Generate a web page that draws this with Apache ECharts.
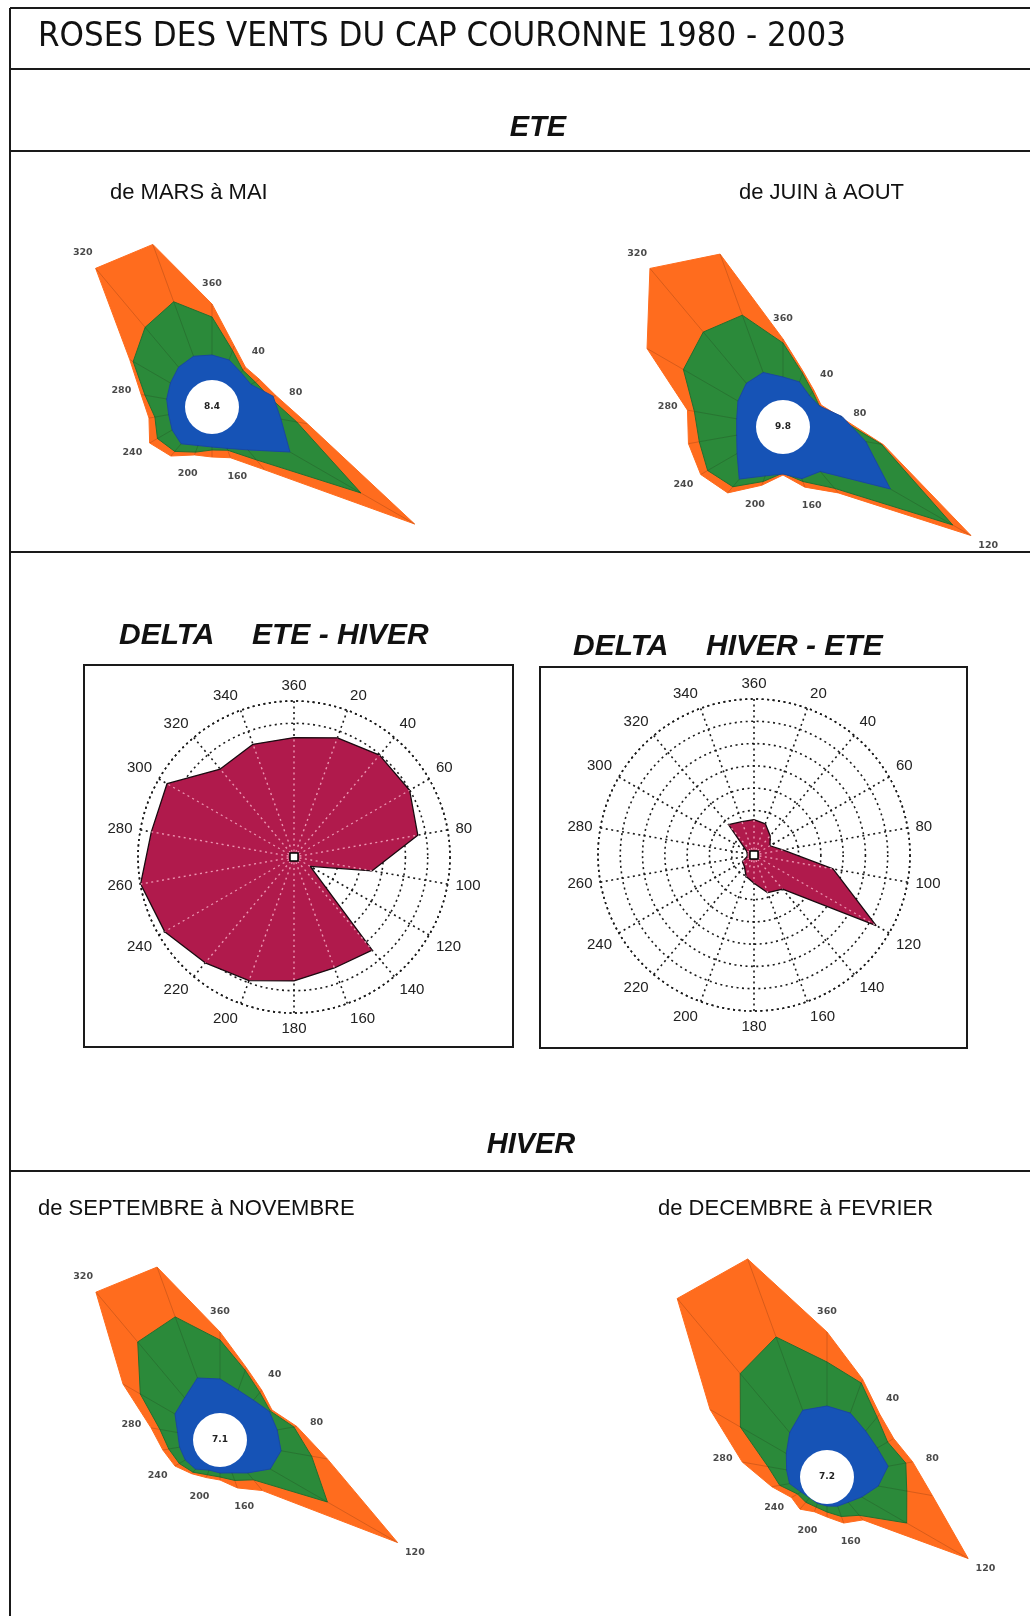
<!DOCTYPE html>
<html>
<head>
<meta charset="utf-8">
<title>Roses des vents du Cap Couronne</title>
<script src="https://cdn.jsdelivr.net/npm/echarts@6/dist/echarts.min.js"></script>
<style>
html, body { margin: 0; padding: 0; background: #fff; }
#chart { width: 1030px; height: 1616px; }
</style>
</head>
<body>
<div id="chart"></div>
<script>
// directions (degrés), un secteur tous les 20°
var directions = [0, 20, 40, 60, 80, 100, 120, 140, 160, 180, 200, 220, 240, 260, 280, 300, 320, 340];
var labelDirections = [0, 40, 80, 120, 160, 200, 240, 280, 320];

// ETE - de MARS à MAI
var marsMaiOrange = [103, 65, 52, 55, 65, 97, 234, 82, 54, 50, 51, 64, 72, 64, 72, 95, 181, 173];
var marsMaiGreen  = [90, 60, 48, 50, 58, 86, 172, 69, 46, 43, 48, 58, 63, 58, 68, 91, 104, 112];
var marsMaiBlue   = [52, 50, 45, 45, 62, 70, 90, 56, 44, 40, 41, 48, 46, 44, 46, 48, 52, 54];
var marsMaiCalm = '8.4';

// ETE - de JUIN à AOUT
var juinAoutOrange = [88, 59, 48, 44, 58, 102, 217, 86, 64, 48, 62, 86, 95, 96, 97, 157, 207, 184];
var juinAoutGreen  = [84, 57, 46, 42, 55, 100, 196, 80, 58, 46, 58, 78, 87, 85, 90, 115, 124, 119];
var juinAoutBlue   = [50, 48, 41, 42, 60, 84, 124, 58, 55, 47, 52, 68, 53, 47, 47, 52, 57, 58];
var juinAoutCalm = '9.8';

// HIVER - de SEPTEMBRE à NOVEMBRE
var septNovOrange = [108, 77, 65, 60, 78, 109, 205, 66, 51, 40, 40, 44, 52, 58, 70, 112, 193, 184];
var septNovGreen  = [100, 74, 62, 58, 75, 93, 124, 52, 43, 37, 37, 42, 47, 52, 61, 92, 128, 131];
var septNovBlue   = [61, 53, 52, 57, 58, 62, 58, 43, 35, 33, 32, 38, 40, 41, 43, 52, 55, 66];
var septNovCalm = '7.1';

// HIVER - de DECEMBRE à FEVRIER
var decFevOrange = [145, 104, 82, 77, 87, 107, 163, 56, 49, 40, 37, 42, 41, 56, 86, 135, 233, 232];
var decFevGreen  = [115, 100, 78, 70, 80, 81, 92, 50, 42, 35, 32, 33, 34, 48, 60, 100, 135, 149];
var decFevBlue   = [71, 68, 60, 58, 62, 52, 40, 33, 31, 29, 28, 27, 30, 38, 41, 47, 58, 71];
var decFevCalm = '7.2';

// DELTA (7 cercles)
var deltaEteHiver = [5.36, 5.69, 5.97, 5.99, 5.64, 3.56, 0.84, 5.46, 5.3, 5.56, 5.9, 6.2, 6.7, 6.99, 6.5, 6.58, 5.15, 5.38];
var deltaHiverEte = [1.59, 1.49, 1.13, 0.83, 1.31, 3.6, 6.33, 2.0, 1.8, 1.27, 1.03, 0.67, 0.6, 0.3, 0.3, 0.4, 1.78, 1.59];
var deltaMax = 7;

var ORANGE = '#ff6c1e', GREEN = '#2b8a3a', BLUE = '#1653b6', CRIMSON = '#b01a4c';
var ROSE_MAX = 250;

// polygone fermé [rayon, angle]
function closed(values) {
  var pts = directions.map(function (a, i) { return [values[i], a]; });
  pts.push([values[0], 360]);
  return pts;
}

function areaSeries(polarIndex, values, fill, stroke, z) {
  return {
    type: 'line', coordinateSystem: 'polar', polarIndex: polarIndex,
    data: closed(values), symbol: 'none', smooth: false, silent: true, z: z,
    lineStyle: { color: stroke, width: 1 },
    areaStyle: { color: fill, opacity: 1 }
  };
}

function spokes(polarIndex, inner, outer, style, z) {
  var pts = [];
  directions.forEach(function (a, i) {
    pts.push([inner ? inner[i] : 0, a], [outer[i], a], ['-', a]);
  });
  return {
    type: 'line', coordinateSystem: 'polar', polarIndex: polarIndex,
    data: pts, symbol: 'none', silent: true, z: z, connectNulls: false,
    lineStyle: style
  };
}

function roseSeries(polarIndex, orange, green, blue, calm) {
  return [
    areaSeries(polarIndex, orange, ORANGE, ORANGE, 2),
    areaSeries(polarIndex, green, GREEN, '#24702f', 3),
    areaSeries(polarIndex, blue, BLUE, '#1a48a0', 4),
    spokes(polarIndex, blue, orange, { color: 'rgba(30,20,10,0.22)', width: 0.8 }, 5),
    {
      type: 'scatter', coordinateSystem: 'polar', polarIndex: polarIndex, z: 6, silent: true,
      data: [[0, 0]], symbol: 'circle', symbolSize: 54,
      itemStyle: { color: '#ffffff', opacity: 1 },
      label: { show: true, position: 'inside', formatter: calm, color: '#222',
               fontFamily: 'DejaVu Sans', fontWeight: 'bold', fontSize: 9 }
    },
    {
      type: 'scatter', coordinateSystem: 'polar', polarIndex: polarIndex, z: 7, silent: true,
      data: labelDirections.map(function (a) { return [orange[directions.indexOf(a)] + 20, a]; }),
      symbolSize: 1, itemStyle: { color: 'rgba(0,0,0,0)' },
      label: { show: true, position: 'inside', color: '#1a1a1a',
               fontFamily: 'DejaVu Sans', fontWeight: 'bold', fontSize: 9.5,
               formatter: function (p) { return p.value[1] === 0 ? '360' : String(p.value[1]); } }
    }
  ];
}

function deltaSeries(polarIndex, values) {
  return [
    {
      type: 'line', coordinateSystem: 'polar', polarIndex: polarIndex,
      data: closed(values), symbol: 'none', silent: true, z: 2,
      lineStyle: { color: '#1a0a10', width: 1.3 },
      areaStyle: { color: CRIMSON, opacity: 1 }
    },
    spokes(polarIndex, null, values, { color: 'rgba(255,190,210,0.75)', width: 1.4, type: [2, 3.5] }, 3),
    {
      type: 'scatter', coordinateSystem: 'polar', polarIndex: polarIndex, z: 4, silent: true,
      data: [[0, 0]], symbol: 'rect', symbolSize: 8,
      itemStyle: { color: '#fff', opacity: 1, borderColor: '#000', borderWidth: 1.5 }
    }
  ];
}

// polaires : 0 mars-mai, 1 juin-aout, 2 delta ete-hiver, 3 delta hiver-ete, 4 sept-nov, 5 dec-fev
var roseCenters = [[212, 407], [783, 427], null, null, [220, 1440], [827, 1477]];
var deltaCenters = [null, null, [294, 857], [754, 855]];
var gridLine = { color: '#1a1a1a', width: 1.6, type: [2, 3.5] };

var polar = [], angleAxis = [], radiusAxis = [];
for (var k = 0; k < 6; k++) {
  var isDelta = (k === 2 || k === 3);
  polar.push({ center: isDelta ? deltaCenters[k] : roseCenters[k], radius: isDelta ? 156 : ROSE_MAX });
  if (isDelta) {
    angleAxis.push({
      polarIndex: k, type: 'value', min: 0, max: 360, interval: 20, startAngle: 90, clockwise: true,
      axisLine: { show: true, lineStyle: gridLine },
      axisTick: { show: false },
      splitLine: { show: true, lineStyle: gridLine },
      axisLabel: { show: true, margin: 8, color: '#222', fontFamily: 'Liberation Sans', fontSize: 15,
                   formatter: function (v) { return v === 0 ? '360' : String(v); } }
    });
    radiusAxis.push({
      polarIndex: k, type: 'value', min: 0, max: deltaMax, interval: 1,
      axisLine: { show: false }, axisTick: { show: false }, axisLabel: { show: false },
      splitLine: { show: true, lineStyle: gridLine }
    });
  } else {
    angleAxis.push({ polarIndex: k, type: 'value', min: 0, max: 360, startAngle: 90, clockwise: true, show: false });
    radiusAxis.push({ polarIndex: k, type: 'value', min: 0, max: ROSE_MAX, show: false });
  }
}

var series = []
  .concat(roseSeries(0, marsMaiOrange, marsMaiGreen, marsMaiBlue, marsMaiCalm))
  .concat(roseSeries(1, juinAoutOrange, juinAoutGreen, juinAoutBlue, juinAoutCalm))
  .concat(deltaSeries(2, deltaEteHiver))
  .concat(deltaSeries(3, deltaHiverEte))
  .concat(roseSeries(4, septNovOrange, septNovGreen, septNovBlue, septNovCalm))
  .concat(roseSeries(5, decFevOrange, decFevGreen, decFevBlue, decFevCalm));

// textes et cadres
function txt(text, x, y, font, align) {
  return {
    type: 'text', silent: true, z: 10,
    style: { text: text, x: x, y: y, font: font, fill: '#111',
             textAlign: align || 'left', align: align || 'left',
             textVerticalAlign: 'middle', verticalAlign: 'middle' }
  };
}
function hline(y, x1, x2) {
  return { type: 'line', silent: true, z: 10, shape: { x1: x1, y1: y, x2: x2, y2: y },
           style: { stroke: '#1a1a1a', lineWidth: 2 } };
}
var headFont = 'bold italic 29px "Liberation Sans", Arial, sans-serif';
var deltaFont = 'bold italic 30px "Liberation Sans", Arial, sans-serif';
var subFont = '22px "Liberation Sans", Arial, sans-serif';

var graphic = [
  hline(8, 10, 1030), hline(69, 10, 1030), hline(151, 10, 1030), hline(552, 10, 1030), hline(1171, 10, 1030),
  { type: 'line', silent: true, z: 10, shape: { x1: 10, y1: 8, x2: 10, y2: 1616 }, style: { stroke: '#1a1a1a', lineWidth: 2 } },
  { type: 'rect', silent: true, z: 10, shape: { x: 84, y: 665, width: 429, height: 382 }, style: { fill: null, stroke: '#1a1a1a', lineWidth: 2 } },
  { type: 'rect', silent: true, z: 10, shape: { x: 540, y: 667, width: 427, height: 381 }, style: { fill: null, stroke: '#1a1a1a', lineWidth: 2 } },
  txt('ROSES DES VENTS DU CAP COURONNE 1980 - 2003', 38, 37, '34.5px "DejaVu Sans Condensed", "DejaVu Sans", sans-serif'),
  txt('ETE', 538, 128, headFont, 'center'),
  txt('de MARS à MAI', 110, 193, subFont),
  txt('de JUIN à AOUT', 739, 193, subFont),
  txt('DELTA', 119, 636, deltaFont),
  txt('ETE - HIVER', 252, 636, deltaFont),
  txt('DELTA', 573, 647, deltaFont),
  txt('HIVER - ETE', 706, 647, deltaFont),
  txt('HIVER', 531, 1145, headFont, 'center'),
  txt('de SEPTEMBRE à NOVEMBRE', 38, 1209, subFont),
  txt('de DECEMBRE à FEVRIER', 658, 1209, subFont)
];

var chart = echarts.init(document.getElementById('chart'), null, { renderer: 'canvas' });
chart.setOption({
  backgroundColor: '#ffffff',
  animation: false,
  polar: polar,
  angleAxis: angleAxis,
  radiusAxis: radiusAxis,
  series: series,
  graphic: graphic
});
</script>
</body>
</html>
